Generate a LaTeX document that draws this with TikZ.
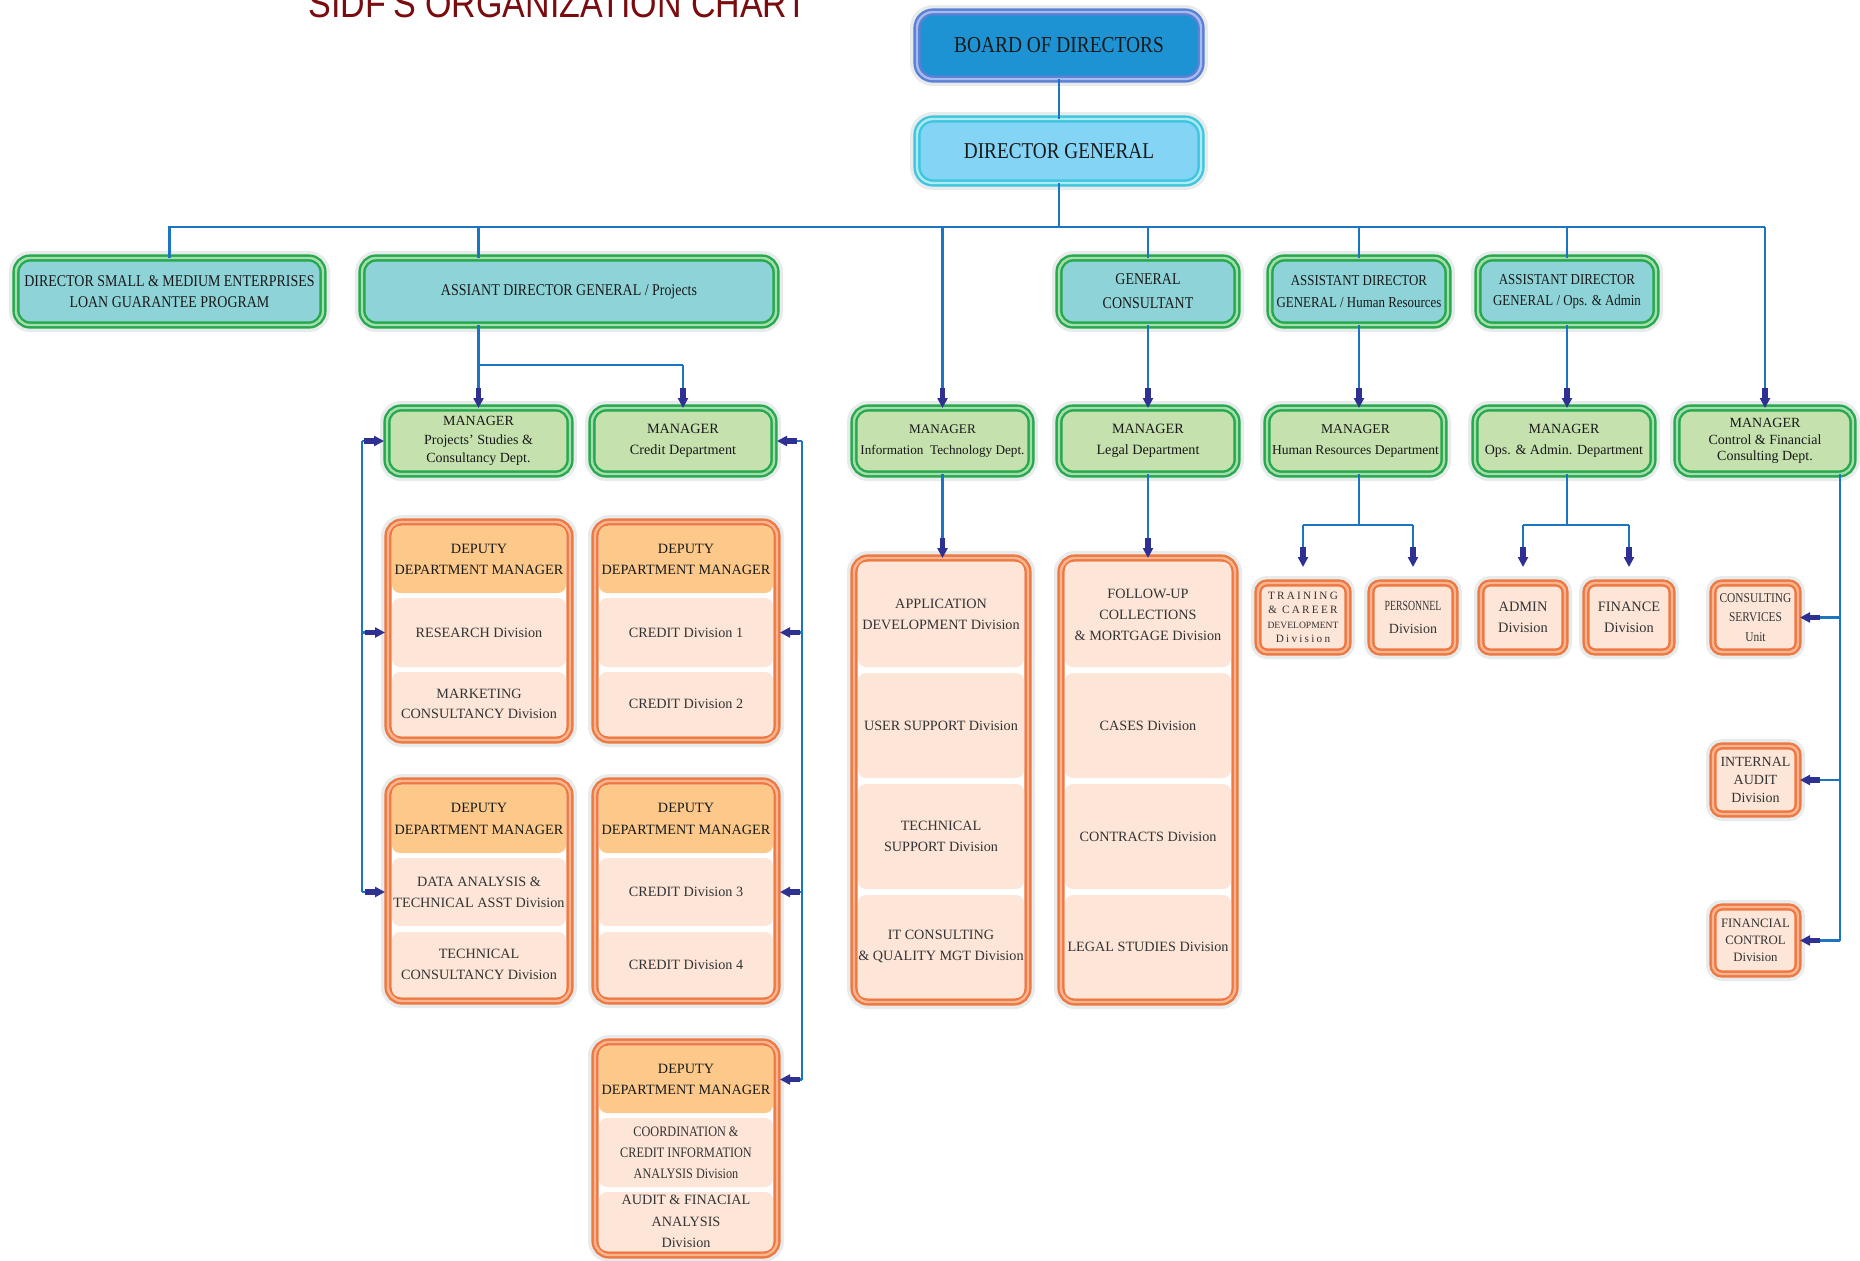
\documentclass[tikz,border=0pt]{standalone}
\usepackage{fontspec}
\setmainfont{Liberation Serif}
\newfontfamily\cond{Liberation Serif}[FakeStretch=0.85]
\newfontfamily\ccond{Liberation Serif}[FakeStretch=0.7]
\newfontfamily\lspc{Liberation Serif}[LetterSpace=20]
\newfontfamily\titlef{Liberation Sans}[FakeStretch=0.85]
\usetikzlibrary{arrows.meta}
\newcommand\fsz[2]{\fontsize{#1}{#2}\selectfont}
\definecolor{cBoard}{HTML}{1E93D3}
\definecolor{cBoardB}{HTML}{5A7FD3}
\definecolor{cBoardL}{HTML}{A3BBEE}
\definecolor{cDG}{HTML}{84D4F6}
\definecolor{cDGB}{HTML}{3EC6DE}
\definecolor{cDGL}{HTML}{AEEAF3}
\definecolor{cTop}{HTML}{8DD3D7}
\definecolor{cGrn}{HTML}{25A94C}
\definecolor{cGrnL}{HTML}{A5DDAE}
\definecolor{cMgr}{HTML}{C5E1AE}
\definecolor{cOr}{HTML}{EE7842}
\definecolor{cOrL}{HTML}{F8B590}
\definecolor{cHead}{HTML}{FCC98B}
\definecolor{cRow}{HTML}{FDE5D8}
\definecolor{cLine}{HTML}{1B75C2}
\definecolor{cArr}{HTML}{2E3192}
\definecolor{cTitle}{HTML}{7A0C10}
\definecolor{cHalo}{HTML}{E8EBEB}
\newcommand{\mybox}[7]{%
  \pgfmathsetmacro\bxcx{(#3+#5)/2}%
  \pgfmathsetmacro\bxcy{(#4+#6)/2}%
  \pgfmathsetmacro\bxw{(#5-#3)/2}%
  \pgfmathsetmacro\bxh{(#6-#4)/2}%
  \node[#2, minimum width=\bxw pt, minimum height=\bxh pt] (#1) at (\bxcx,\bxcy) {#7};}
\tikzset{
 bx/.style={inner sep=1pt, outer sep=0pt, align=center, text=black!90},
 halo/.style={preaction={draw=cHalo, line width=7pt}},
 brd/.style 2 args={draw=#1, line width=3.6pt, postaction={draw=#2, line width=1.2pt}},
 boardbox/.style={bx, halo, rounded corners=8pt, fill=cBoard, brd={cBoardB}{cBoardL}, font=\cond\fsz{11.4}{13}},
 dgbox/.style={bx, halo, rounded corners=8pt, fill=cDG, brd={cDGB}{cDGL}, font=\cond\fsz{11.3}{13}},
 topbox/.style={bx, halo, rounded corners=7pt, fill=cTop, brd={cGrn}{cGrnL}, font=\cond\fsz{8.2}{10.8}},
 mgrbox/.style={bx, halo, rounded corners=7pt, fill=cMgr, brd={cGrn}{cGrnL}, font=\fsz{7}{10}},
 depframe/.style={bx, halo, rounded corners=7pt, fill=white, brd={cOr}{cOrL}},
 hdr/.style={bx, inner xsep=0pt, rounded corners=4pt, fill=cHead, font=\fsz{7.1}{10.7}},
 divrow/.style={bx, inner xsep=0pt, rounded corners=4pt, fill=cRow, font=\fsz{7.1}{10.5}, text=black!80},
 smallbox/.style={bx, halo, rounded corners=4.5pt, fill=cRow, brd={cOr}{cOrL}, font=\fsz{7}{10}, text=black!80},
 conn/.style={draw=cLine, line width=1.2pt},
 arr/.style={-{Rectangle[length=5pt,width=2.6pt,sep=0pt,color=cArr]Triangle[length=5pt,width=5pt,color=cArr]}},
}
\begin{document}
\begin{tikzpicture}[x=0.5pt,y=-0.5pt]
\useasboundingbox (0,0) rectangle (1860,1260);
\fill[white] (0,0) rectangle (1860,1260);
\node[font=\titlef\fsz{20}{20}, text=cTitle, anchor=base, inner sep=0pt] (title) at (558,17) {SIDF’S ORGANIZATION CHART};

% top
\mybox{board}{boardbox}{917}{12}{1201}{79}{BOARD OF DIRECTORS}
\mybox{dg}{dgbox}{917}{119}{1201}{183}{DIRECTOR GENERAL}
\mybox{sme}{topbox}{16}{258}{323}{325}{DIRECTOR SMALL \& MEDIUM ENTERPRISES\\LOAN GUARANTEE PROGRAM}
\mybox{adgp}{topbox}{362}{258}{776}{325}{ASSIANT DIRECTOR GENERAL / Projects}
\mybox{gc}{topbox,font=\cond\fsz{8.2}{12}}{1059}{258}{1237}{325}{GENERAL\\CONSULTANT}
\mybox{adghr}{topbox,font=\cond\fsz{7.6}{10.7}}{1270}{258}{1448}{325}{ASSISTANT DIRECTOR\\GENERAL / Human Resources}
\mybox{adgops}{topbox,font=\cond\fsz{7.6}{10.7}}{1478}{258}{1656}{325}{ASSISTANT DIRECTOR\\GENERAL / Ops. \& Admin}

% managers
\mybox{mps}{mgrbox,font=\fsz{7}{9.2}}{387}{408}{570}{474}{MANAGER\\Projects’ Studies \&\\Consultancy Dept.}
\mybox{mcr}{mgrbox,font=\fsz{7.1}{10.7}}{592}{408}{774}{474}{MANAGER\\Credit Department}
\mybox{mit}{mgrbox,font=\fsz{6.6}{10.7}}{854}{408}{1031}{474}{MANAGER\\Information~ Technology Dept.}
\mybox{mlg}{mgrbox,font=\fsz{7.1}{10.7}}{1059}{408}{1237}{474}{MANAGER\\Legal Department}
\mybox{mhr}{mgrbox,font=\fsz{6.8}{10.7}}{1267}{408}{1444}{474}{MANAGER\\Human Resources Department}
\mybox{mops}{mgrbox,font=\fsz{7}{10.7}}{1475}{408}{1653}{474}{MANAGER\\Ops. \& Admin. Department}
\mybox{mctl}{mgrbox,font=\fsz{7}{8.2}}{1677}{408}{1853}{474}{MANAGER\\Control \& Financial\\Consulting Dept.}

% projects deputies
\mybox{fp1}{depframe}{388}{522}{570}{740}{}
\mybox{p1h}{hdr}{392}{526}{566}{593}{DEPUTY\\DEPARTMENT MANAGER}
\mybox{p1a}{divrow}{392}{598}{566}{667}{RESEARCH Division}
\mybox{p1b}{divrow,font=\fsz{7.1}{10}}{392}{672}{566}{736}{MARKETING\\CONSULTANCY Division}
\mybox{fp2}{depframe}{388}{781}{570}{1001}{}
\mybox{p2h}{hdr}{392}{785}{566}{853}{DEPUTY\\DEPARTMENT MANAGER}
\mybox{p2a}{divrow}{392}{858}{566}{926}{DATA ANALYSIS \&\\TECHNICAL ASST Division}
\mybox{p2b}{divrow}{392}{932}{566}{997}{TECHNICAL\\CONSULTANCY Division}

% credit deputies
\mybox{fc1}{depframe}{595}{522}{777}{740}{}
\mybox{c1h}{hdr}{599}{526}{773}{593}{DEPUTY\\DEPARTMENT MANAGER}
\mybox{c1a}{divrow}{599}{598}{773}{667}{CREDIT Division 1}
\mybox{c1b}{divrow}{599}{672}{773}{736}{CREDIT Division 2}
\mybox{fc2}{depframe}{595}{781}{777}{1001}{}
\mybox{c2h}{hdr}{599}{785}{773}{853}{DEPUTY\\DEPARTMENT MANAGER}
\mybox{c2a}{divrow}{599}{858}{773}{926}{CREDIT Division 3}
\mybox{c2b}{divrow}{599}{932}{773}{997}{CREDIT Division 4}
\mybox{fc3}{depframe}{595}{1042}{777}{1255}{}
\mybox{c3h}{hdr}{599}{1046}{773}{1113}{DEPUTY\\DEPARTMENT MANAGER}
\mybox{c3a}{divrow,font=\cond\fsz{7.2}{10.4}}{599}{1118}{773}{1187}{COORDINATION \&\\CREDIT INFORMATION\\ANALYSIS Division}
\mybox{c3b}{divrow,font=\fsz{7.1}{10.7}}{599}{1192}{773}{1251}{AUDIT \& FINACIAL\\ANALYSIS\\Division}

% IT
\mybox{fit}{depframe}{854}{558}{1028}{1002}{}
\mybox{ita}{divrow}{858}{562}{1024}{667}{APPLICATION\\DEVELOPMENT Division}
\mybox{itb}{divrow}{858}{673}{1024}{778}{USER SUPPORT Division}
\mybox{itc}{divrow}{858}{784}{1024}{889}{TECHNICAL\\SUPPORT Division}
\mybox{itd}{divrow}{858}{895}{1024}{998}{IT CONSULTING\\\& QUALITY MGT Division}

% Legal
\mybox{flg}{depframe}{1061}{558}{1235}{1002}{}
\mybox{lga}{divrow}{1065}{562}{1231}{667}{FOLLOW-UP\\COLLECTIONS\\\& MORTGAGE Division}
\mybox{lgb}{divrow}{1065}{673}{1231}{778}{CASES Division}
\mybox{lgc}{divrow}{1065}{784}{1231}{889}{CONTRACTS Division}
\mybox{lgd}{divrow}{1065}{895}{1231}{998}{LEGAL STUDIES Division}

% small boxes
\mybox{trn}{smallbox,font=\fsz{5.6}{7.2}}{1258}{583}{1348}{652}{{\lspc TRAINING}\\{\lspc \& CAREER}\\{\fsz{4.8}{7.2}DEVELOPMENT}\\{\lspc Division}}
\mybox{per}{smallbox,font=\fsz{7}{11.3}}{1371}{583}{1455}{652}{{\ccond PERSONNEL}\\Division}
\mybox{adm}{smallbox,font=\fsz{7.2}{10.5}}{1481}{583}{1565}{652}{ADMIN\\Division}
\mybox{fin}{smallbox,font=\fsz{7.2}{10.5}}{1586}{583}{1672}{652}{FINANCE\\Division}
\mybox{csu}{smallbox,font=\cond\fsz{6.7}{9.8}}{1713}{583}{1798}{652}{CONSULTING\\SERVICES\\Unit}
\mybox{iad}{smallbox,font=\fsz{7}{9.2}}{1713}{746}{1798}{814}{INTERNAL\\AUDIT\\Division}
\mybox{fcd}{smallbox,font=\fsz{6.4}{8.6}}{1713}{907}{1798}{974}{FINANCIAL\\CONTROL\\Division}

% connectors
\coordinate (bus) at (1054,227);
\coordinate (pbus) at (0,365);
\coordinate (hbus) at (0,525);
\coordinate (lbus) at (362,0);
\coordinate (cbus) at (802,0);
\coordinate (rbus) at (1840,0);

\draw[conn] (board) -- (dg);
\draw[conn] (dg.south) -- (dg.south |- bus);
\draw[conn] (sme.north) |- (mctl.north |- bus);
\draw[conn] (mps.north |- bus) -- (mps.north |- adgp.north);
\draw[conn] (gc.north |- bus) -- (gc.north);
\draw[conn] (adghr.north |- bus) -- (adghr.north);
\draw[conn] (adgops.north |- bus) -- (adgops.north);
\draw[conn,arr] (mit.north |- bus) -- (mit.north);
\draw[conn,arr] (mctl.north |- bus) -- (mctl.north);

\draw[conn] (mps.north |- adgp.south) -- (mps.north |- pbus) -- (mcr.north |- pbus);
\draw[conn,arr] (mps.north |- pbus) -- (mps.north);
\draw[conn,arr] (mcr.north |- pbus) -- (mcr.north);

\draw[conn,arr] (gc.south) -- (mlg.north);
\draw[conn,arr] (adghr.south) -- (adghr.south |- mhr.north);
\draw[conn,arr] (adgops.south) -- (adgops.south |- mops.north);
\draw[conn,arr] (mit.south) -- (mit.south |- fit.north);
\draw[conn,arr] (mlg.south) -- (mlg.south |- flg.north);

\draw[conn] (adghr.south |- mhr.south) -- (adghr.south |- hbus);
\draw[conn] (trn.north |- hbus) -- (per.north |- hbus);
\draw[conn,arr,shorten >=8pt] (trn.north |- hbus) -- (trn.north);
\draw[conn,arr,shorten >=8pt] (per.north |- hbus) -- (per.north);
\draw[conn] (adgops.south |- mops.south) -- (adgops.south |- hbus);
\draw[conn] (adm.north |- hbus) -- (fin.north |- hbus);
\draw[conn,arr,shorten >=8pt] (adm.north |- hbus) -- (adm.north);
\draw[conn,arr,shorten >=8pt] (fin.north |- hbus) -- (fin.north);

\draw[conn] (lbus |- mps.west) -- (lbus |- p2a.west);
\draw[conn,arr,shorten >=1.5pt] (lbus |- mps.west) -- (mps.west);
\draw[conn,arr,shorten >=1.5pt] (lbus |- p1a.west) -- (p1a.west -| fp1.west);
\draw[conn,arr,shorten >=1.5pt] (lbus |- p2a.west) -- (p2a.west -| fp2.west);

\draw[conn] (cbus |- mcr.east) -- (cbus |- c3h.east);
\draw[conn,arr,shorten >=1.5pt] (cbus |- mcr.east) -- (mcr.east);
\draw[conn,arr,shorten >=1.5pt] (cbus |- c1a.east) -- (c1a.east -| fc1.east);
\draw[conn,arr,shorten >=1.5pt] (cbus |- c2a.east) -- (c2a.east -| fc2.east);
\draw[conn,arr,shorten >=1.5pt] (cbus |- c3h.east) -- (c3h.east -| fc3.east);

\draw[conn] (rbus |- mctl.south) -- (rbus |- fcd.east);
\draw[conn,arr,shorten >=1pt] (rbus |- csu.east) -- (csu.east);
\draw[conn,arr,shorten >=1pt] (rbus |- iad.east) -- (iad.east);
\draw[conn,arr,shorten >=1pt] (rbus |- fcd.east) -- (fcd.east);
\end{tikzpicture}
\end{document}
